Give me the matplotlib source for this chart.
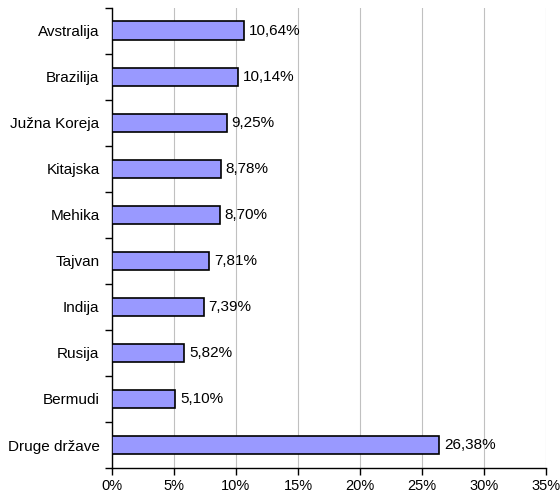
import matplotlib.pyplot as plt
from matplotlib.ticker import FuncFormatter

countries = ["Avstralija", "Brazilija", "Južna Koreja", "Kitajska", "Mehika",
             "Tajvan", "Indija", "Rusija", "Bermudi", "Druge države"]
shares = [10.64, 10.14, 9.25, 8.78, 8.70, 7.81, 7.39, 5.82, 5.10, 26.38]
xticks = [0, 5, 10, 15, 20, 25, 30, 35]

plt.rcParams['font.family'] = ['Liberation Sans', 'DejaVu Sans']

fig = plt.figure(figsize=(5.6, 4.95), dpi=100)
ax = fig.add_axes([0.2, 0.0545, 0.775, 0.93])

pos = list(range(len(countries)))
ax.barh(pos, shares, height=0.4, color='#9999FF', edgecolor='black', linewidth=1.2, zorder=3)

for p, v in zip(pos, shares):
    ax.text(v + 0.4, p, f"{v:.2f}%".replace('.', ','), va='center', ha='left', fontsize=11)

ax.set_ylim(len(countries) - 0.5, -0.5)
ax.set_xlim(0, 35)
ax.set_xticks(xticks)
ax.xaxis.set_major_formatter(FuncFormatter(lambda x, _: f"{x:.0f}%"))
ax.grid(axis='x', color='#c0c0c0', linewidth=0.8, zorder=0)

# category labels centred, tick marks at category boundaries
ax.set_yticks(pos)
ax.set_yticklabels(countries)
ax.tick_params(axis='y', length=0, pad=9, labelsize=11)
ax.set_yticks([p + 0.5 for p in [-1] + pos], minor=True)
ax.tick_params(axis='y', which='minor', length=5, width=1, color='black')
ax.tick_params(axis='x', length=5, width=1, labelsize=10.5, pad=3)

for s in ['top', 'right']:
    ax.spines[s].set_visible(False)
ax.spines['left'].set_linewidth(1)
ax.spines['bottom'].set_linewidth(1)

fig.savefig('out.png', dpi=100)
